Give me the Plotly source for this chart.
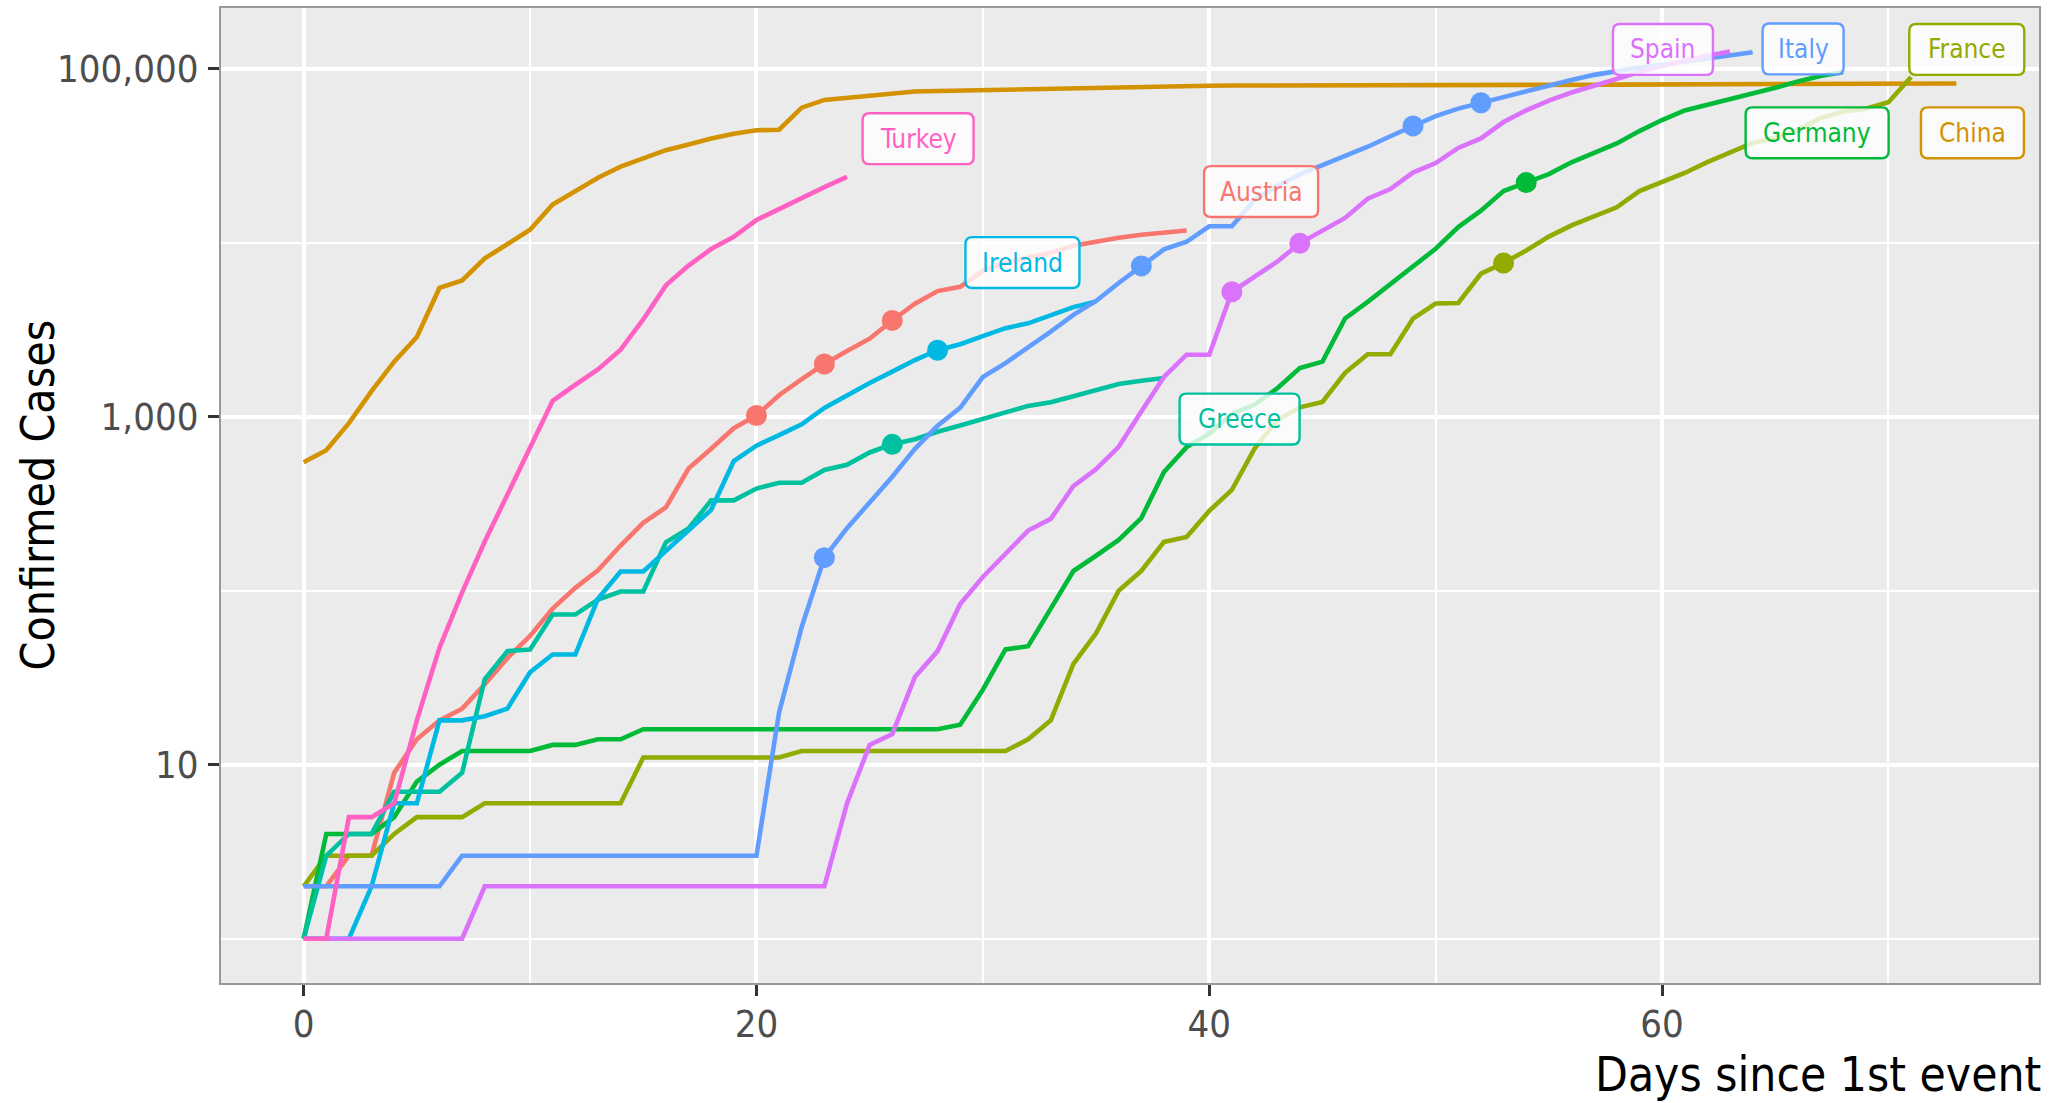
import plotly.graph_objects as go

# ---------------- data (cumulative confirmed cases, day 0 = first case) ----------------
countries = ["Austria", "China", "France", "Germany", "Greece", "Ireland", "Italy", "Spain", "Turkey"]

austria = [2, 2, 3, 3, 9, 14, 18, 21, 29, 41, 55, 79, 104, 131, 182, 246, 302, 504, 655, 860,
           1018, 1332, 1646, 2013, 2388, 2814, 3582, 4474, 5283, 5588, 6909, 7657, 8271, 8788,
           9618, 10180, 10711, 11129, 11524, 11781]
china = [548, 643, 920, 1406, 2075, 2877, 5509, 6087, 8141, 9802,
         11891, 16630, 19716, 23707, 27440, 30587, 34110, 36814, 39829, 42354, 44386, 44759,
         59895, 66358, 68413, 70513, 72434, 74211, 74619, 75077, 75550, 77001, 77022, 77241,
         77754, 78166, 78600, 78928, 79356,
         79932, 80136, 80261, 80386, 80537, 80690, 80770, 80823, 80860, 80887, 80921, 80932,
         80945, 80977, 81003, 81033, 81058, 81102, 81156, 81250, 81305, 81435, 81498, 81591,
         81661, 81782, 81897, 81999, 82122, 82198, 82279,
         82361, 82432, 82511, 82543]
france = [2, 3, 3, 3, 4, 5, 5, 5, 6, 6, 6, 6, 6, 6, 6, 11, 11, 11, 11, 11, 11, 11,
          12, 12, 12, 12, 12, 12, 12, 12, 12, 12, 14, 18, 38, 57, 100, 130, 191, 204, 288, 380,
          656, 957, 1134, 1217, 1792, 2289, 2289, 3672, 4480, 4513, 6650, 7652, 9043, 10871,
          12612, 14282, 16018, 19856, 22304, 25233, 29155, 32964, 37575, 40174, 44550, 52128,
          56989, 59105, 64338, 89953]
germany = [1, 4, 4, 4, 5, 8, 10, 12, 12, 12, 12, 13, 13, 14, 14, 16, 16, 16, 16, 16, 16, 16,
           16, 16, 16, 16, 16, 16, 16, 17, 27, 46, 48, 79, 130, 159, 196, 262, 482, 670, 799,
           1040, 1176, 1457, 1908, 2078, 3675, 4585, 5795, 7272, 9257, 12327, 15320, 19848,
           22213, 24873, 29056, 32986, 37323, 43938, 50871, 57695, 62095, 66885, 71808, 77872,
           84794, 91159, 96092]
greece = [1, 3, 4, 4, 7, 7, 7, 9, 31, 45, 46, 73, 73, 89, 99, 99, 190, 228, 331, 331, 387,
          418, 418, 495, 530, 624, 695, 743, 821, 892, 966, 1061, 1156, 1212, 1314, 1415, 1544,
          1613, 1673]
ireland = [1, 1, 1, 2, 6, 6, 18, 18, 19, 21, 34, 43, 43, 90, 129, 129, 169, 223, 292, 557,
           683, 785, 906, 1125, 1329, 1564, 1819, 2121, 2415, 2615, 2910, 3235, 3447, 3849,
           4273, 4604]
italy = [2, 2, 2, 2, 2, 2, 2, 3, 3, 3, 3, 3, 3, 3, 3, 3, 3, 3, 3, 3, 3, 20, 62, 155, 229, 322,
         453, 655, 888, 1128, 1694, 2036, 2502, 3089, 3858, 4636, 5883, 7375, 9172, 10149,
         12462, 12462, 17660, 21157, 24747, 27980, 31506, 35713, 41035, 47021, 53578, 59138,
         63927, 69176, 74386, 80589, 86498, 92472, 97689, 101739, 105792, 110574, 115242,
         119827, 124632]
spain = [1, 1, 1, 1, 1, 1, 1, 1, 2, 2, 2, 2, 2, 2, 2, 2, 2, 2, 2, 2, 2, 2, 2, 2, 6, 13, 15,
         32, 45, 84, 120, 165, 222, 259, 400, 500, 673, 1073, 1695, 2277, 2277, 5232, 6391,
         7798, 9942, 11748, 13910, 17963, 20410, 25374, 28768, 35136, 39885, 49515, 57786,
         65719, 73235, 80110, 87956, 95923, 104118, 112065, 119199, 126168]
turkey = [1, 1, 5, 5, 6, 18, 47, 98, 192, 359, 670, 1236, 1529, 1872, 2433, 3629, 5698, 7402,
          9217, 10827, 13531, 15679, 18135, 20921, 23934]

series = {"Austria": austria, "China": china, "France": france, "Germany": germany,
          "Greece": greece, "Ireland": ireland, "Italy": italy, "Spain": spain, "Turkey": turkey}

# days marked with a dot on each curve
marked_days = {"Austria": [20, 23, 26], "Greece": [26], "Ireland": [28],
               "Italy": [23, 37, 49, 52], "Spain": [41, 44], "Germany": [54], "France": [53]}

x_ticks = [0, 20, 40, 60]
x_minor = [10, 30, 50, 70]
y_ticks = [10, 1000, 100000]
y_tick_text = ["10", "1,000", "100,000"]
y_minor = [1, 100, 10000]

# ---------------- style ----------------
colors = {"Austria": "#F8766D", "China": "#D39200", "France": "#93AA00", "Germany": "#00BA38",
          "Greece": "#00C19F", "Ireland": "#00B9E3", "Italy": "#619CFF", "Spain": "#DB72FB",
          "Turkey": "#FF61C3"}
FONT = "DejaVu Sans Condensed, DejaVu Sans, sans-serif"
W, H = 2059, 1103
ML, MR, MT, MB = 221, 20, 6, 120
PW, PH = W - ML - MR, H - MT - MB
XMIN, XMAX = -3.65, 76.65
YMIN, YMAX = -0.2548, 5.3504

# label placement: centre (day, log10 cases) and box size in px
label_layout = {
    "Turkey": (27.14, 4.599, 111, 51),
    "Austria": (42.29, 4.295, 114, 51),
    "Ireland": (31.75, 3.887, 114, 51),
    "Greece": (41.34, 2.987, 120, 51),
    "Spain": (60.04, 5.112, 100, 51),
    "Italy": (66.23, 5.115, 81, 51),
    "France": (73.46, 5.112, 115, 51),
    "Germany": (66.85, 4.633, 143, 51),
    "China": (73.71, 4.633, 103, 51),
}

fig = go.Figure()
for c in countries:
    vals = series[c]
    fig.add_trace(go.Scatter(x=list(range(len(vals))), y=vals, mode="lines",
                             line=dict(color=colors[c], width=4.6), name=c,
                             showlegend=False, hoverinfo="skip"))
for c in countries:
    if c in marked_days:
        vals = series[c]
        fig.add_trace(go.Scatter(x=marked_days[c], y=[vals[d] for d in marked_days[c]],
                                 mode="markers", marker=dict(color=colors[c], size=21),
                                 showlegend=False, hoverinfo="skip"))


def to_paper(day, lg):
    return (day - XMIN) / (XMAX - XMIN), (lg - YMIN) / (YMAX - YMIN)


shapes, annotations = [], []
r = 7.0
for c, (d, lg, bw, bh) in label_layout.items():
    cx, cy = to_paper(d, lg)
    hw, hh = bw / 2 / PW, bh / 2 / PH
    rx, ry = r / PW, r / PH
    x0, x1, y0, y1 = cx - hw, cx + hw, cy - hh, cy + hh
    path = (f"M {x0+rx},{y0} L {x1-rx},{y0} Q {x1},{y0} {x1},{y0+ry} "
            f"L {x1},{y1-ry} Q {x1},{y1} {x1-rx},{y1} L {x0+rx},{y1} "
            f"Q {x0},{y1} {x0},{y1-ry} L {x0},{y0+ry} Q {x0},{y0} {x0+rx},{y0} Z")
    shapes.append(dict(type="path", path=path, xref="paper", yref="paper", layer="above",
                       fillcolor="rgba(255,255,255,0.8)", line=dict(color=colors[c], width=2.4)))
    annotations.append(dict(text=c, x=cx, y=cy, xref="paper", yref="paper", showarrow=False,
                            xanchor="center", yanchor="middle",
                            font=dict(family=FONT, size=26, color=colors[c])))

# axis titles
annotations.append(dict(text="Days since 1st event", x=1.0 + 4 / PW, y=(MT + PH - 1075) / PH,
                        xref="paper", yref="paper", showarrow=False, xanchor="right",
                        yanchor="middle", font=dict(family=FONT, size=47.5, color="black")))
annotations.append(dict(text="Confirmed Cases", x=(37 - ML) / PW, y=0.5, textangle=-90,
                        xref="paper", yref="paper", showarrow=False, xanchor="center",
                        yanchor="middle", font=dict(family=FONT, size=46, color="black")))

fig.update_layout(
    width=W, height=H, margin=dict(l=ML, r=MR, t=MT, b=MB, pad=0),
    paper_bgcolor="white", plot_bgcolor="#EBEBEB",
    shapes=shapes, annotations=annotations,
    xaxis=dict(range=[XMIN, XMAX], tickvals=x_ticks, ticktext=[str(v) for v in x_ticks],
               showgrid=True, gridcolor="white", gridwidth=4, zeroline=False,
               minor=dict(tickvals=x_minor, showgrid=True, gridcolor="white",
                          gridwidth=2, ticks=""),
               ticks="outside", ticklen=11, tickwidth=3, tickcolor="#333333",
               showline=True, linecolor="#999999", linewidth=2, mirror=True,
               tickfont=dict(family=FONT, size=38, color="#4D4D4D"), ticklabelstandoff=-5),
    yaxis=dict(type="log", range=[YMIN, YMAX], tickvals=y_ticks, ticktext=y_tick_text,
               showgrid=True, gridcolor="white", gridwidth=4, zeroline=False,
               minor=dict(tickvals=y_minor, showgrid=True, gridcolor="white",
                          gridwidth=2, ticks=""),
               ticks="outside", ticklen=11, tickwidth=3, tickcolor="#333333",
               showline=True, linecolor="#999999", linewidth=2, mirror=True,
               tickfont=dict(family=FONT, size=38, color="#4D4D4D"), ticklabelstandoff=2),
)

fig.write_html("out.html", config={"displayModeBar": False},
               post_script="document.body.style.margin='0px';")
